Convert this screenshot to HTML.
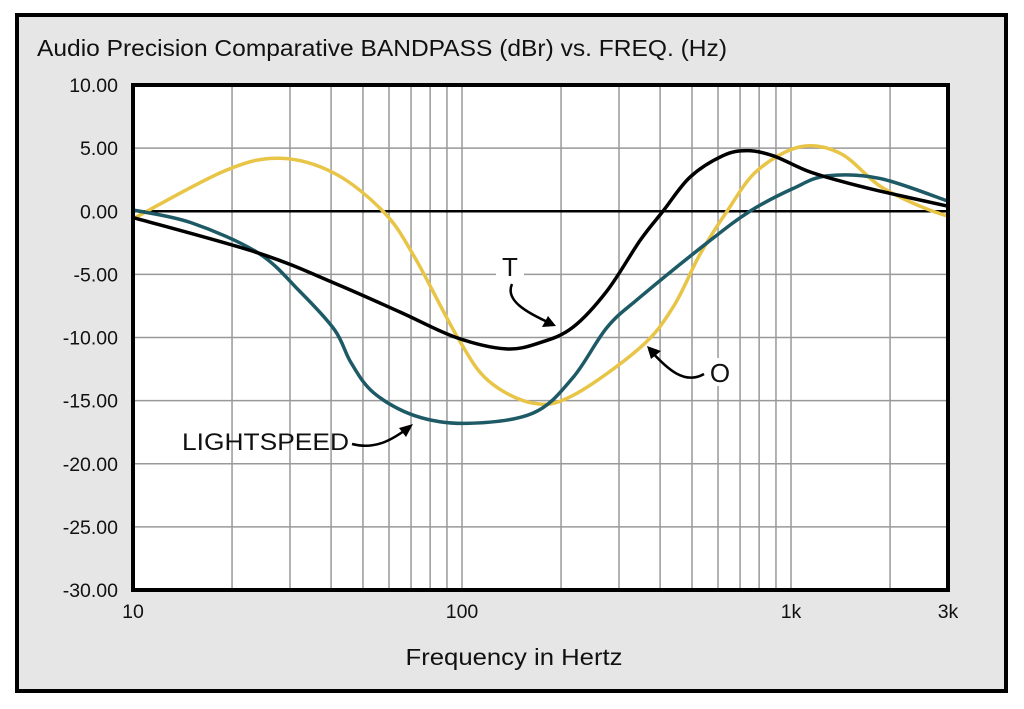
<!DOCTYPE html>
<html><head><meta charset="utf-8"><style>
html,body{margin:0;padding:0;background:#fff;width:1024px;height:709px;overflow:hidden}
text{font-family:"Liberation Sans",sans-serif;fill:#111}
</style></head><body>
<svg id="chart" width="1024" height="709" viewBox="0 0 1024 709">
<rect x="17" y="15" width="989" height="676" fill="#e6e6e6" stroke="#000" stroke-width="4"/>
<text x="37" y="56" font-size="23.5" textLength="690" lengthAdjust="spacingAndGlyphs">Audio Precision Comparative BANDPASS (dBr) vs. FREQ. (Hz)</text>
<rect x="133" y="85" width="815" height="505" fill="#fff"/>
<g id="grid"></g>
<g id="yticks"></g>
<g id="xticks"></g>
<rect x="496" y="252" width="28" height="28" fill="#fff"/>
<rect x="704" y="358" width="30" height="28" fill="#fff"/>
<g id="series"></g>
<rect x="133" y="85" width="815" height="505" fill="none" stroke="#000" stroke-width="4"/>
<text x="514" y="665" font-size="23" text-anchor="middle" textLength="217" lengthAdjust="spacingAndGlyphs">Frequency in Hertz</text>
<g>
<text x="510" y="276" font-size="26" text-anchor="middle">T</text>
<path d="M512,284 C505,300 525,312 552,324" fill="none" stroke="#000" stroke-width="2.5"/>
<path d="M556,326 L542,327 L548,316 Z" fill="#000"/>
</g>
<g>
<text x="720" y="382" font-size="26" text-anchor="middle">O</text>
<path d="M704,374 C685,385 668,370 650,350" fill="none" stroke="#000" stroke-width="2.5"/>
<path d="M647,346 L661,351 L651,359 Z" fill="#000"/>
</g>
<g>
<text x="182" y="450" font-size="24" textLength="167" lengthAdjust="spacingAndGlyphs">LIGHTSPEED</text>
<path d="M352,444 C375,450 392,440 408,428" fill="none" stroke="#000" stroke-width="2.5"/>
<path d="M413,424 L406,437 L399,428 Z" fill="#000"/>
</g>
</svg>
<script>
const yTicks=[10,5,0,-5,-10,-15,-20,-25,-30];
const yTickLabels=["10.00","5.00","0.00","-5.00","-10.00","-15.00","-20.00","-25.00","-30.00"];
const xTicks=[10,100,1000,3000];
const xTickLabels=["10","100","1k","3k"];
const xGrid=[20,30,40,50,60,70,80,90,200,300,400,500,600,700,800,900,2000];
const tFreq=[10,24,41,65,96,136,173,217,276,348,408,493,621,735,881,1120,1409,1862,3000];
const tVals=[-0.5,-3.3,-5.7,-8,-10,-10.9,-10.4,-9.2,-6.3,-2.3,0,2.7,4.4,4.8,4.4,3.2,2.4,1.6,0.4];
const oFreq=[10,19,28,41,58,72,97,120,164,217,348,438,529,639,788,1064,1409,1862,2466,3000];
const oVals=[-0.6,3.2,4.2,3.0,-0.1,-3.7,-10,-13.4,-15.2,-14.6,-10.8,-7.6,-3.4,0,3.2,5.1,4.6,2,0.4,-0.4];
const lFreq=[10,15,24,32,41,46,54,72,103,164,217,276,348,556,750,1014,1286,1862,3000];
const lVals=[0.1,-0.9,-3.3,-6.3,-9.4,-12,-14.4,-16.2,-16.8,-16,-13.2,-9.2,-6.8,-2.5,0,1.8,2.8,2.6,0.8];
const X0=133,X1=948,Y0=85,Y1=590;
const xs=f=>X0+(Math.log10(f)-1)/Math.log10(300)*(X1-X0);
const ys=v=>Y0+(10-v)/40*(Y1-Y0);
const NS="http://www.w3.org/2000/svg";
function mk(tag,attrs,parent){const e=document.createElementNS(NS,tag);for(const k in attrs)e.setAttribute(k,attrs[k]);parent.appendChild(e);return e;}
const grid=document.getElementById('grid');
xGrid.concat(xTicks).forEach(f=>{const l=mk('line',{x1:xs(f),x2:xs(f),y1:Y0,y2:Y1,stroke:'#999','stroke-width':1.5},grid);

});
yTicks.forEach(v=>{const l=mk('line',{x1:X0,x2:X1,y1:ys(v),y2:ys(v),stroke:v===0?'#000':'#999','stroke-width':v===0?2.5:1.5},grid);

});
const yt=document.getElementById('yticks');
yTicks.forEach((v,i)=>{const t=mk('text',{x:118,y:ys(v)+7,'font-size':19.5,'text-anchor':'end'},yt);t.textContent=yTickLabels[i];

});
const xt=document.getElementById('xticks');
xTicks.forEach((f,i)=>{const t=mk('text',{x:xs(f),y:618,'font-size':19.5,'text-anchor':'middle'},xt);t.textContent=xTickLabels[i];

});
function smooth(pts){let d=`M${pts[0][0]},${pts[0][1]}`;for(let i=0;i<pts.length-1;i++){const p0=pts[i-1]||pts[i],p1=pts[i],p2=pts[i+1],p3=pts[i+2]||p2;
const c1=[p1[0]+(p2[0]-p0[0])/6,p1[1]+(p2[1]-p0[1])/6],c2=[p2[0]-(p3[0]-p1[0])/6,p2[1]-(p3[1]-p1[1])/6];
d+=` C${c1[0]},${c1[1]} ${c2[0]},${c2[1]} ${p2[0]},${p2[1]}`;}return d;}
const ser=document.getElementById('series');
[[oFreq,oVals,'#e8c547','series-o'],[lFreq,lVals,'#1d5a66','series-lightspeed'],[tFreq,tVals,'#000','series-t']].forEach(([f,v,c,n])=>{
const p=mk('path',{d:smooth(f.map((q,i)=>[xs(q),ys(v[i])])),fill:'none',stroke:c,'stroke-width':3.5},ser);

});
</script>
</body></html>
